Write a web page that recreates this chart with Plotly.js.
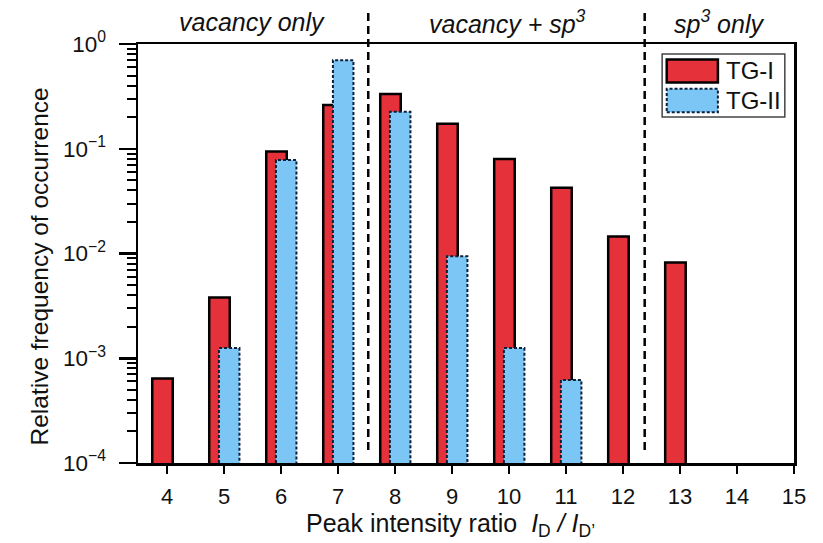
<!DOCTYPE html>
<html>
<head>
<meta charset="utf-8">
<script src="https://cdn.plot.ly/plotly-3.0.1.min.js"></script>
<style>html,body{margin:0;padding:0;background:#fff;}#chart{width:823px;height:543px;}</style>
</head>
<body>
<div id="chart"></div>
<script>
// ---- data ----
const ratios = [4, 5, 6, 7, 8, 9, 10, 11, 12, 13];
const tgI  = [6.4e-4, 3.8e-3, 0.094, 0.262, 0.334, 0.173, 0.080, 0.0425, 0.0145, 0.0082];
const tgII = [null, 1.25e-3, 0.078, 0.70, 0.225, 0.0094, 1.25e-3, 6.2e-4, null, null];
const seriesNames = ['TG-I', 'TG-II'];
const xTickVals = [4, 5, 6, 7, 8, 9, 10, 11, 12, 13, 14, 15];
const yTickVals = [1e-4, 1e-3, 1e-2, 1e-1, 1];
const yTickText = ['10<sup>\u22124</sup>', '10<sup>\u22123</sup>', '10<sup>\u22122</sup>', '10<sup>\u22121</sup>', '10<sup>0</sup>'];
const regionLabels = ['vacancy only', 'vacancy + sp<sup>3</sup>', 'sp<sup>3</sup> only'];
const regionBounds = [7.53, 12.38];
const xTitle = 'Peak intensity ratio  <i>I</i><sub>D</sub><i> / I</i><sub>D\u2019</sub>';
const yTitle = 'Relative frequency of occurrence';

// ---- styles ----
const FONT = 'Liberation Sans, Arial, sans-serif';
const RED = '#e5323a';
const BLUE = '#7cc6f6';
const NAVY = '#0d2038';
const BAR_W = 0.36;
const OFF_I = -0.26;
const OFF_II = -0.09;
const Y_MIN = 1e-4;

// dotted outline for TG-II bars, derived from the data
const ox = [], oy = [];
ratios.forEach((r, i) => {
  const v = tgII[i];
  if (v == null) return;
  const x0 = r + OFF_II, x1 = r + OFF_II + BAR_W;
  ox.push(x0, x0, x1, x1, null);
  oy.push(Y_MIN, v, v, Y_MIN, null);
});

const traces = [
  {type: 'bar', name: seriesNames[0], x: ratios, y: tgI, width: BAR_W, offset: OFF_I,
   marker: {color: RED, line: {color: '#000', width: 2.5}}, showlegend: false},
  {type: 'bar', name: seriesNames[1], x: ratios, y: tgII, width: BAR_W, offset: OFF_II,
   marker: {color: BLUE, line: {width: 0}}, showlegend: false},
  {type: 'scatter', mode: 'lines', x: ox, y: oy, connectgaps: false, hoverinfo: 'skip',
   line: {color: NAVY, width: 2, dash: '3px,2px'}, showlegend: false, cliponaxis: false}
];

const shapes = [];
const annotations = [];

regionBounds.forEach(b => {
  shapes.push({type: 'line', xref: 'x', yref: 'paper', x0: b, x1: b, y0: 0.031, y1: 1.086,
               line: {color: '#000', width: 2.5, dash: '8px,5px'}});
});
const regionX = [0.174, 0.564, 0.885];
regionLabels.forEach((t, i) => {
  annotations.push({xref: 'paper', yref: 'paper', x: regionX[i], y: 1.052, text: '<i>' + t + '</i>',
                    showarrow: false, xanchor: 'center', yanchor: 'middle',
                    font: {family: FONT, size: 25, color: '#111'}});
});
// custom legend
shapes.push({type: 'rect', xref: 'paper', yref: 'paper', x0: 0.799, x1: 0.986, y0: 0.826, y1: 0.976,
             line: {color: '#444', width: 1.5}, fillcolor: '#fff', layer: 'above'});
shapes.push({type: 'rect', xref: 'paper', yref: 'paper', x0: 0.806, x1: 0.884, y0: 0.908, y1: 0.963,
             line: {color: '#000', width: 2.5}, fillcolor: RED, layer: 'above'});
shapes.push({type: 'rect', xref: 'paper', yref: 'paper', x0: 0.806, x1: 0.884, y0: 0.837, y1: 0.893,
             line: {color: NAVY, width: 2, dash: '3px,2px'}, fillcolor: BLUE, layer: 'above'});
[0.936, 0.866].forEach((yy, i) => {
  annotations.push({xref: 'paper', yref: 'paper', x: 0.893, y: yy, text: seriesNames[i], showarrow: false,
                    xanchor: 'left', yanchor: 'middle', font: {family: FONT, size: 24, color: '#111'}});
});
// axis titles
annotations.push({xref: 'paper', yref: 'paper', x: 0.476, y: -0.148, text: xTitle, showarrow: false,
                  xanchor: 'center', yanchor: 'middle', font: {family: FONT, size: 25, color: '#111'}});
annotations.push({xref: 'paper', yref: 'paper', x: -0.15, y: 0.468, text: yTitle, showarrow: false,
                  textangle: -90, xanchor: 'center', yanchor: 'middle', font: {family: FONT, size: 24.5, color: '#111'}});

const layout = {
  width: 823, height: 543,
  margin: {l: 138, r: 29, t: 44, b: 80},
  paper_bgcolor: '#fff', plot_bgcolor: '#fff',
  barmode: 'overlay',
  font: {family: FONT, color: '#111'},
  showlegend: false,
  xaxis: {
    range: [3.49, 15], tickmode: 'array', tickvals: xTickVals,
    ticks: 'outside', ticklen: 8, tickwidth: 2.5, tickcolor: '#000',
    showline: true, linecolor: '#000', linewidth: 2.5, mirror: true,
    showgrid: false, zeroline: false, ticklabelstandoff: 4,
    tickfont: {family: FONT, size: 22, color: '#111'}
  },
  yaxis: {
    type: 'log', range: [-4, 0], tickmode: 'array', tickvals: yTickVals, ticktext: yTickText,
    ticks: 'outside', ticklen: 17, tickwidth: 2.5, tickcolor: '#000',
    minor: {ticks: 'outside', dtick: 'D1', ticklen: 9, tickwidth: 2, tickcolor: '#000', showgrid: false},
    showline: true, linecolor: '#000', linewidth: 2.5, mirror: true,
    showgrid: false, zeroline: false, ticklabelstandoff: 8,
    tickfont: {family: FONT, size: 22.5, color: '#111'}
  },
  shapes: shapes,
  annotations: annotations
};

Plotly.newPlot('chart', traces, layout, {displayModeBar: false, staticPlot: true});
</script>
</body>
</html>
